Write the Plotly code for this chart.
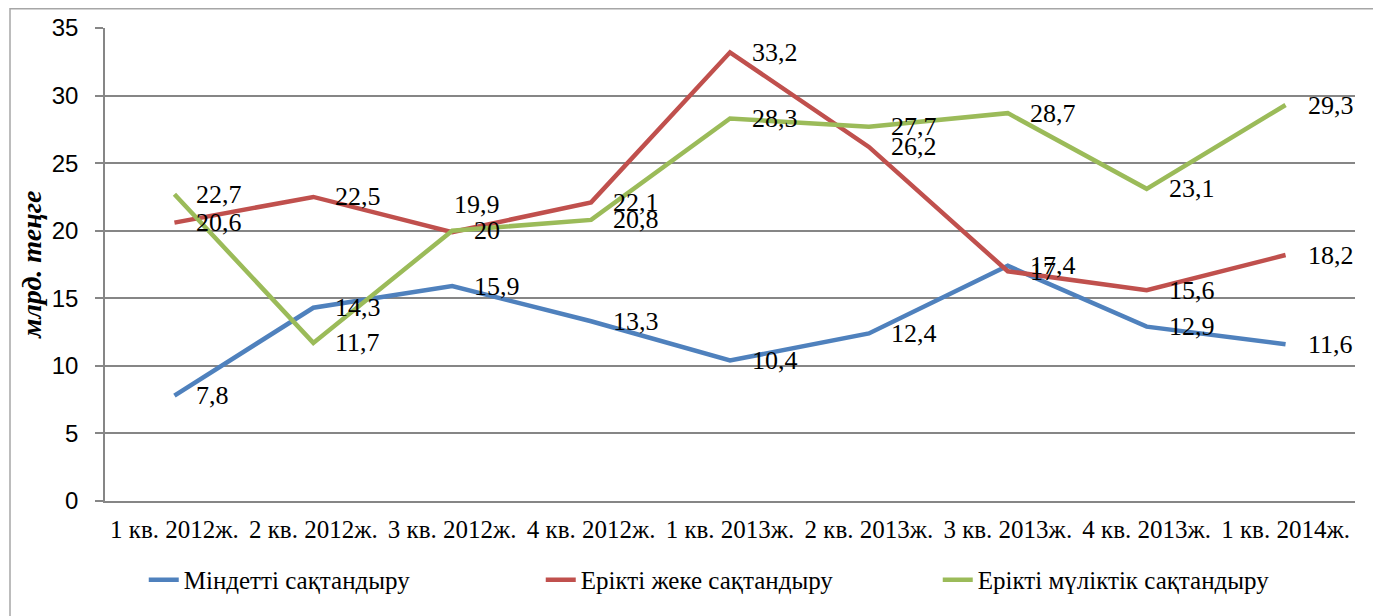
import plotly.graph_objects as go

categories = ["1 кв. 2012ж.", "2 кв. 2012ж.", "3 кв. 2012ж.", "4 кв. 2012ж.",
              "1 кв. 2013ж.", "2 кв. 2013ж.", "3 кв. 2013ж.", "4 кв. 2013ж.",
              "1 кв. 2014ж."]
series_names = ["Міндетті сақтандыру", "Ерікті жеке сақтандыру", "Ерікті мүліктік сақтандыру"]
mindetti = [7.8, 14.3, 15.9, 13.3, 10.4, 12.4, 17.4, 12.9, 11.6]
erikti_zheke = [20.6, 22.5, 19.9, 22.1, 33.2, 26.2, 17, 15.6, 18.2]
erikti_mulik = [22.7, 11.7, 20, 20.8, 28.3, 27.7, 28.7, 23.1, 29.3]
y_ticks = [0, 5, 10, 15, 20, 25, 30, 35]
y_title = "млрд. теңге"

colors = ["#4F81BD", "#C0504D", "#9BBB59"]
all_series = [mindetti, erikti_zheke, erikti_mulik]

# manual label nudges (series index, point index) -> (xshift, yshift)
nudges = {(1, 2): (0, 28)}

fig = go.Figure()
annotations = []
for si, (name, vals, col) in enumerate(zip(series_names, all_series, colors)):
    fig.add_trace(go.Scatter(x=categories, y=vals, mode="lines", name=name,
                             line=dict(color=col, width=4.5)))
    for pi, v in enumerate(vals):
        xs, ys = nudges.get((si, pi), (20, 0))
        annotations.append(dict(x=categories[pi], y=v, xref="x", yref="y",
                                text=f"{v:g}".replace(".", ","), showarrow=False,
                                xanchor="left", yanchor="middle", xshift=xs, yshift=ys,
                                font=dict(family="Liberation Serif", size=26, color="black")))

# y-axis title
annotations.append(dict(text="<b><i>" + y_title + "</i></b>", xref="paper", yref="paper",
                        x=-0.059, y=0.5, xanchor="center", yanchor="middle",
                        textangle=-90, showarrow=False,
                        font=dict(family="Liberation Serif", size=28, color="black")))

# the page body has an 8px margin, so the figure is sized/margined to compensate
fig.update_layout(
    width=1373, height=608,
    margin=dict(l=97, r=26, t=20, b=115, autoexpand=False),
    paper_bgcolor="white", plot_bgcolor="white",
    showlegend=True,
    legend=dict(orientation="h", x=0.031, y=-0.167, xanchor="left", yanchor="middle",
                font=dict(family="Liberation Serif", size=25, color="black"),
                entrywidth=352, entrywidthmode="pixels", traceorder="normal"),
    annotations=annotations,
    shapes=[dict(type="rect", xref="paper", yref="paper",
                 x0=-0.076, x1=1.03, y0=-0.26, y1=1.0405,
                 line=dict(color="#A6A6A6", width=1.5), fillcolor="rgba(0,0,0,0)",
                 layer="below")],
)
fig.update_xaxes(type="category", showgrid=False, showline=True, linecolor="#868686",
                 linewidth=1.5, ticks="", ticklabelstandoff=5, automargin=False,
                 tickfont=dict(family="Liberation Serif", size=25, color="black"),
                 range=[-0.5, len(categories) - 0.5])
fig.update_yaxes(range=[0, 35], tickvals=y_ticks, showgrid=True, gridcolor="#868686",
                 gridwidth=1.5, showline=True, linecolor="#868686", linewidth=1.5,
                 ticks="outside", ticklen=8, tickcolor="#868686", tickwidth=1.5,
                 tickfont=dict(family="Liberation Sans", size=24, color="black"),
                 ticklabelstandoff=12, zeroline=False, automargin=False)

fig.write_html("out.html")
